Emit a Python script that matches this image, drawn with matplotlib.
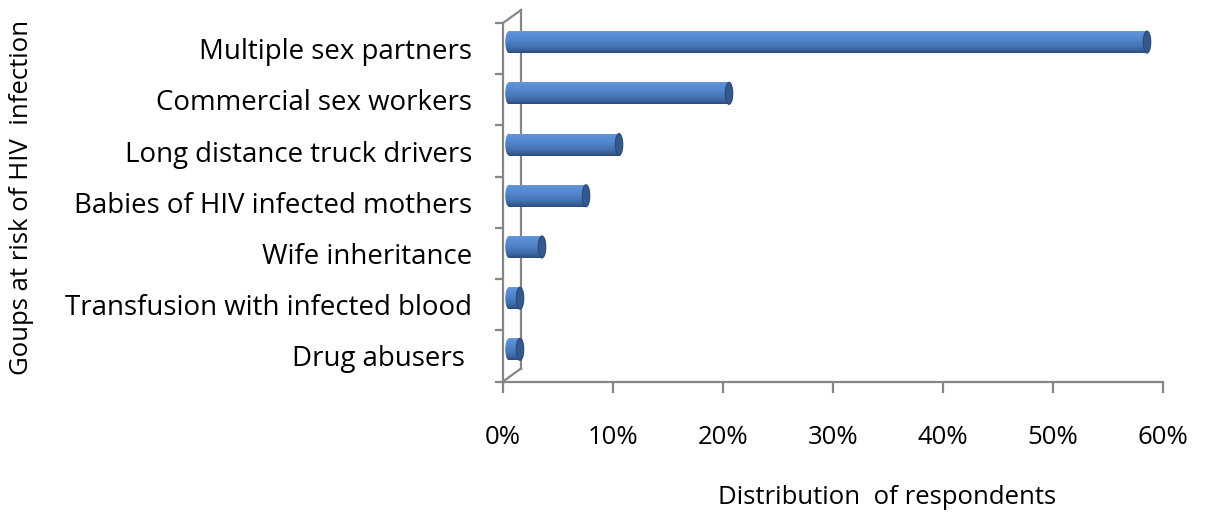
import numpy as np
import matplotlib
matplotlib.use("Agg")
import matplotlib.pyplot as plt
from matplotlib.patches import Rectangle, Ellipse
from matplotlib.lines import Line2D
import matplotlib.transforms as mtransforms
from matplotlib.colors import LinearSegmentedColormap

categories = ["Multiple sex partners", "Commercial sex workers", "Long distance truck drivers",
              "Babies of HIV infected mothers", "Wife inheritance",
              "Transfusion with infected blood", "Drug abusers "]
values = [58, 20, 10, 7, 3, 1, 1]
xticks = [0, 10, 20, 30, 40, 50, 60]
xticklabels = ["0%", "10%", "20%", "30%", "40%", "50%", "60%"]

FONT = "Open Sans"
FS = 18.5
FS_CAT = 19.9
AX_COL = "#868686"

W, H = 1207, 518
fig = plt.figure(figsize=(W / 100, H / 100), dpi=100)
x0, x1 = 503, 1163
y0, y1 = 381.5, 23
ax = fig.add_axes([x0 / W, (H - y0) / H, (x1 - x0) / W, (y0 - y1) / H])
n = len(categories)
ax.set_xlim(0, 60)
ax.set_ylim(n - 0.5, -0.5)

for s in ["top", "right"]:
    ax.spines[s].set_visible(False)
for s in ["left", "bottom"]:
    ax.spines[s].set_color(AX_COL)
    ax.spines[s].set_linewidth(1.6)

ax.set_xticks(xticks)
ax.set_xticklabels(xticklabels, fontsize=FS, fontfamily=FONT)
ax.tick_params(axis="x", length=8, width=1.6, color=AX_COL, pad=23)
ax.set_yticks(np.arange(-0.5, n, 1.0))
ax.set_yticklabels([])
ax.tick_params(axis="y", which="major", length=6, width=1.6, color=AX_COL)
ax.set_yticks(np.arange(n), minor=True)
ax.set_yticklabels(categories, minor=True, fontsize=FS_CAT, fontfamily=FONT)
ax.tick_params(axis="y", which="minor", length=0, pad=22)

# 3D back wall
dx, dy = 18, 13
bl = ax.transAxes.transform((0, 0)); tl = ax.transAxes.transform((0, 1))
ident = mtransforms.IdentityTransform()
for (a, b) in [((bl[0], bl[1]), (bl[0] + dx, bl[1] + dy)),
               ((bl[0] + dx, bl[1] + dy), (tl[0] + dx, tl[1] + dy)),
               ((tl[0], tl[1]), (tl[0] + dx, tl[1] + dy))]:
    ax.add_line(Line2D([a[0], b[0]], [a[1], b[1]], transform=ident, color=AX_COL,
                       lw=1.6, clip_on=False, zorder=1))

# cylinder bars
tr = mtransforms.offset_copy(ax.transData, fig=fig, x=6, y=6.5, units="dots")
cmap = LinearSegmentedColormap.from_list("cyl", [
    (0.0, "#7FA6DA"), (0.08, "#5F93D7"), (0.4, "#5386CD"),
    (0.72, "#4472B0"), (0.9, "#365C93"), (1.0, "#2A4977")])
grad = np.linspace(0, 1, 256).reshape(-1, 1)
bh = 0.43
cap_w = 0.68
for i, v in enumerate(values):
    ytop = i - bh / 2
    rect = Rectangle((0, ytop), v, bh, transform=tr, facecolor="none", edgecolor="none")
    ax.add_patch(rect)
    im = ax.imshow(grad, cmap=cmap, extent=(-cap_w, v, i + bh / 2, ytop),
                   aspect="auto", transform=tr, zorder=3, interpolation="bilinear")
    im.set_clip_path(rect)
    left = Ellipse((0, i), cap_w, bh, transform=tr, facecolor="none", edgecolor="none")
    ax.add_patch(left)
    im2 = ax.imshow(grad, cmap=cmap, extent=(-cap_w, v, i + bh / 2, ytop),
                    aspect="auto", transform=tr, zorder=3, interpolation="bilinear")
    im2.set_clip_path(left)
    cap = Ellipse((v, i), cap_w, bh, transform=tr, facecolor="#34598C",
                  edgecolor="#2A4A78", lw=0.8, zorder=4)
    ax.add_patch(cap)

ax.set_xlim(0, 60)
ax.set_ylim(n - 0.5, -0.5)

fig.text(22 / W, 1 - 197 / H, "Goups at risk of HIV  infection", rotation=90,
         ha="center", va="center", fontsize=FS, fontfamily=FONT)
fig.text(887 / W, 1 - 497 / H, "Distribution  of respondents", ha="center", va="center",
         fontsize=FS, fontfamily=FONT)

fig.savefig("out.png", dpi=100)
